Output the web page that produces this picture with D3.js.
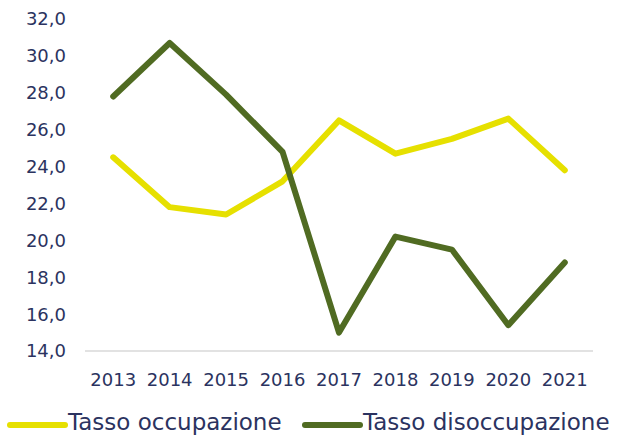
<!DOCTYPE html>
<html>
<head>
<meta charset="utf-8">
<script src="https://cdn.jsdelivr.net/npm/d3@7"></script>
<style>
  body { margin: 0; background: #fff; }
  svg { display: block; font-family: "DejaVu Sans", sans-serif; }
</style>
</head>
<body>
<div id="chart"></div>
<script>
const years = ["2013", "2014", "2015", "2016", "2017", "2018", "2019", "2020", "2021"];
const occupazione = [24.5, 21.8, 21.4, 23.2, 26.5, 24.7, 25.5, 26.6, 23.8];
const disoccupazione = [27.8, 30.7, 27.9, 24.8, 15.0, 20.2, 19.5, 15.4, 18.8];
const yTicks = [14, 16, 18, 20, 22, 24, 26, 28, 30, 32];
const seriesNames = ["Tasso occupazione", "Tasso disoccupazione"];

const W = 617, H = 436;
const textColor = "#2b3360";
const colors = ["#e6e000", "#506b22"];

const svg = d3.select("#chart").append("svg")
  .attr("width", W)
  .attr("height", H);

// scales
const x = d3.scaleBand()
  .domain(years)
  .range([85, 593]);

const y = d3.scaleLinear()
  .domain([14, 32])
  .range([351, 19]);

// y labels
svg.append("g")
  .selectAll("text")
  .data(yTicks)
  .enter()
  .append("text")
  .attr("x", 66)
  .attr("y", d => y(d))
  .attr("dy", "0.36em")
  .attr("text-anchor", "end")
  .attr("fill", textColor)
  .style("font-size", "18px")
  .text(d => d3.format(".1f")(d).replace(".", ","));

// x axis line
svg.append("line")
  .attr("x1", x.range()[0])
  .attr("x2", x.range()[1])
  .attr("y1", y(14))
  .attr("y2", y(14))
  .attr("stroke", "#d9d9d9")
  .attr("stroke-width", 1.5);

svg.append("g")
  .selectAll("text")
  .data(years)
  .enter()
  .append("text")
  .attr("x", d => x(d) + x.bandwidth() / 2)
  .attr("y", 386)
  .attr("text-anchor", "middle")
  .attr("fill", textColor)
  .style("font-size", "18px")
  .text(d => d);

// lines
const line = d3.line()
  .x((d, i) => x(years[i]) + x.bandwidth() / 2)
  .y(d => y(d));

[occupazione, disoccupazione].forEach((s, i) => {
  svg.append("path")
    .datum(s)
    .attr("d", line)
    .attr("fill", "none")
    .attr("stroke", colors[i])
    .attr("stroke-width", 6)
    .attr("stroke-linecap", "round")
    .attr("stroke-linejoin", "round");
});

// legend (kept just inside the bottom edge)
const legendX = [10, 305];
seriesNames.forEach((name, i) => {
  const g = svg.append("g").attr("transform", `translate(${legendX[i]},425)`);
  g.append("line")
    .attr("x1", 0).attr("x2", 55)
    .attr("stroke", colors[i])
    .attr("stroke-width", 6)
    .attr("stroke-linecap", "round");
  g.append("text")
    .attr("x", 58)
    .attr("y", 5)
    .attr("fill", textColor)
    .style("font-size", "23px")
    .text(name);
});
</script>
</body>
</html>
